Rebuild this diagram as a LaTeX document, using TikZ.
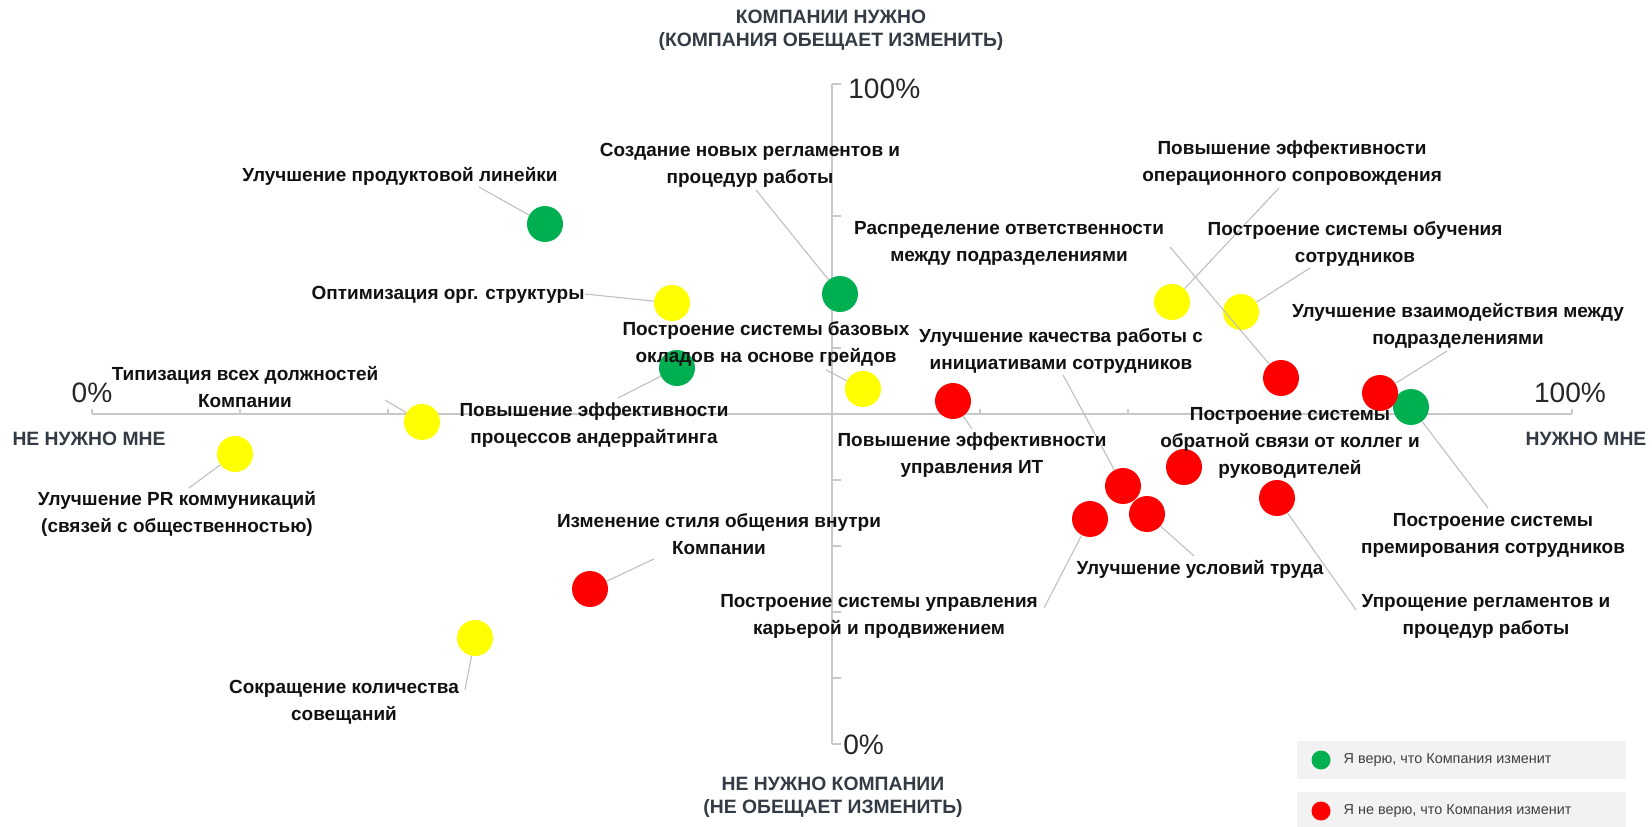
\documentclass[tikz,border=0pt]{standalone}
\usepackage{fontspec}
\setmainfont{Liberation Sans}
\usetikzlibrary{positioning}

\definecolor{dotgreen}{HTML}{00B050}
\definecolor{dotyellow}{HTML}{FFFF00}
\definecolor{dotred}{HTML}{FF0000}
\definecolor{axisgray}{HTML}{C8C8C8}
\definecolor{leadgray}{HTML}{BDBDBD}
\definecolor{titlegray}{HTML}{333B45}
\definecolor{pctgray}{HTML}{262626}
\definecolor{labelblack}{HTML}{111111}
\definecolor{legendgray}{HTML}{F2F2F2}
\definecolor{legendtext}{HTML}{404040}

\begin{document}
\begin{tikzpicture}[x=0.02cm, y=-0.02cm,
    bubble/.style={circle, minimum size=0.72cm, inner sep=0pt},
    lbl/.style={font=\bfseries\fontsize{10.8}{15.4}\selectfont, text=labelblack, align=center, inner sep=1pt},
    ttl/.style={font=\bfseries\fontsize{11}{13}\selectfont, text=titlegray, align=center},
    pct/.style={font=\fontsize{16}{18}\selectfont, text=pctgray, inner sep=0pt},
    leadline/.style={draw=leadgray, line width=0.6pt},
    axisline/.style={draw=axisgray, line width=1.1pt},
    legdot/.style={circle, minimum size=0.38cm, inner sep=0pt},
    legtext/.style={font=\fontsize{8.2}{10}\selectfont, text=legendtext, inner sep=0pt, anchor=west}]
    \useasboundingbox (0,0) rectangle (1652,827);

    % Axes
    \draw[axisline] (92,414) -- (1572,414);
    \draw[axisline] (832,84) -- (832,744);
    \foreach \x in {92,240,...,1572}
    {
        \draw[axisline] (\x,414) -- (\x,409);
    }
    \foreach \y in {84,150,...,744}
    {
        \draw[axisline] (832,\y) -- (841,\y);
    }

    % Axis labels
    \node[pct] (xmin) at (92,393) {0\%};
    \node[pct] (xmax) at (1570,393) {100\%};
    \node[pct, anchor=west] (ymax) at (848,89) {100\%};
    \node[pct, anchor=west] (ymin) at (843,745) {0\%};
    \node[ttl] (top) at (831,30) {КОМПАНИИ НУЖНО\\(КОМПАНИЯ ОБЕЩАЕТ ИЗМЕНИТЬ)};
    \node[ttl] (bottom) at (833,797) {НЕ НУЖНО КОМПАНИИ\\(НЕ ОБЕЩАЕТ ИЗМЕНИТЬ)};
    \node[ttl] (left) at (89,439) {НЕ НУЖНО МНЕ};
    \node[ttl] (right) at (1586,439) {НУЖНО МНЕ};

    % Free ends of the leader lines
    \coordinate (prod-c) at (479,187);
    \coordinate (org-c) at (585,294);
    \coordinate (regl-c) at (756,190);
    \coordinate (grade-c) at (826,370);
    \coordinate (under-c) at (618,398);
    \coordinate (typ-c) at (385,400);
    \coordinate (pr-c) at (189,488);
    \coordinate (style-c) at (654,559);
    \coordinate (meet-c) at (465,690);
    \coordinate (it-c) at (972,429);
    \coordinate (resp-c) at (1170,247);
    \coordinate (oper-c) at (1279,188);
    \coordinate (train-c) at (1310,268);
    \coordinate (inter-c) at (1447,351);
    \coordinate (init-c) at (1063,375);
    \coordinate (bonus-c) at (1488,508);
    \coordinate (work-c) at (1194,556);
    \coordinate (career-c) at (1044,608);
    \coordinate (simpl-c) at (1356,610);

    % Points
    \node[bubble, fill=dotgreen] (prod) at (545,224) {};
    \node[bubble, fill=dotyellow] (org) at (672,303) {};
    \node[bubble, fill=dotgreen] (regl) at (840,294) {};
    \node[bubble, fill=dotyellow] (grade) at (863,389) {};
    \node[bubble, fill=dotgreen] (under) at (677,368) {};
    \node[bubble, fill=dotyellow] (typ) at (422,422) {};
    \node[bubble, fill=dotyellow] (pr) at (235,454) {};
    \node[bubble, fill=dotred] (style) at (590,589) {};
    \node[bubble, fill=dotyellow] (meet) at (475,638) {};
    \node[bubble, fill=dotred] (it) at (953,401) {};
    \node[bubble, fill=dotred] (resp) at (1281,378) {};
    \node[bubble, fill=dotyellow] (oper) at (1172,302) {};
    \node[bubble, fill=dotyellow] (train) at (1241,312) {};
    \node[bubble, fill=dotgreen] (bonus) at (1411,407) {};
    \node[bubble, fill=dotred] (inter) at (1380,393) {};
    \node[bubble, fill=dotred] (init) at (1123,486) {};
    \node[bubble, fill=dotred] (feedb) at (1184,467) {};
    \node[bubble, fill=dotred] (work) at (1147,514) {};
    \node[bubble, fill=dotred] (career) at (1090,519) {};
    \node[bubble, fill=dotred] (simpl) at (1277,498) {};

    % Leader lines
    \foreach \n in {prod,org,regl,grade,under,typ,pr,style,meet,it,resp,oper,train,inter,init,bonus,work,career,simpl}
    {
        \draw[leadline] (\n-c) -- (\n);
    }

    % Labels
    \node[lbl] (prod-t) at (400,176) {Улучшение продуктовой линейки};
    \node[lbl] (org-t) at (448,295) {Оптимизация орг. структуры};
    \node[lbl] (regl-t) at (750,165) {Создание новых регламентов и\\процедур работы};
    \node[lbl] (grade-t) at (766,344) {Построение системы базовых\\окладов на основе грейдов};
    \node[lbl] (under-t) at (594,425) {Повышение эффективности\\процессов андеррайтинга};
    \node[lbl] (typ-t) at (245,387) {Типизация всех должностей\\Компании};
    \node[lbl] (pr-t) at (177,514) {Улучшение PR коммуникаций\\(связей с общественностью)};
    \node[lbl] (style-t) at (719,534) {Изменение стиля общения внутри\\Компании};
    \node[lbl] (meet-t) at (344,702) {Сокращение количества\\совещаний};
    \node[lbl] (it-t) at (972,455) {Повышение эффективности\\управления ИТ};
    \node[lbl] (resp-t) at (1009,243) {Распределение ответственности\\между подразделениями};
    \node[lbl] (oper-t) at (1292,163) {Повышение эффективности\\операционного сопровождения};
    \node[lbl] (train-t) at (1355,244) {Построение системы обучения\\сотрудников};
    \node[lbl] (inter-t) at (1458,326) {Улучшение взаимодействия между\\подразделениями};
    \node[lbl] (init-t) at (1061,351) {Улучшение качества работы с\\инициативами сотрудников};
    \node[lbl] (feedb-t) at (1290,443) {Построение системы\\обратной связи от коллег и\\руководителей};
    \node[lbl] (bonus-t) at (1493,535) {Построение системы\\премирования сотрудников};
    \node[lbl] (work-t) at (1200,569) {Улучшение условий труда};
    \node[lbl] (career-t) at (879,616) {Построение системы управления\\карьерой и продвижением};
    \node[lbl] (simpl-t) at (1486,616) {Упрощение регламентов и\\процедур работы};

    % Legend
    \fill[legendgray] (1297,741) rectangle (1626,779);
    \fill[legendgray] (1297,792) rectangle (1626,827);
    \node[legdot, fill=dotgreen] (lg-yes) at (1321,760) {};
    \node[legtext, right=0.25cm of lg-yes] (lg-yes-t) {Я верю, что Компания изменит};
    \node[legdot, fill=dotred] (lg-no) at (1321,811) {};
    \node[legtext, right=0.25cm of lg-no] (lg-no-t) {Я не верю, что Компания изменит};
\end{tikzpicture}
\end{document}
